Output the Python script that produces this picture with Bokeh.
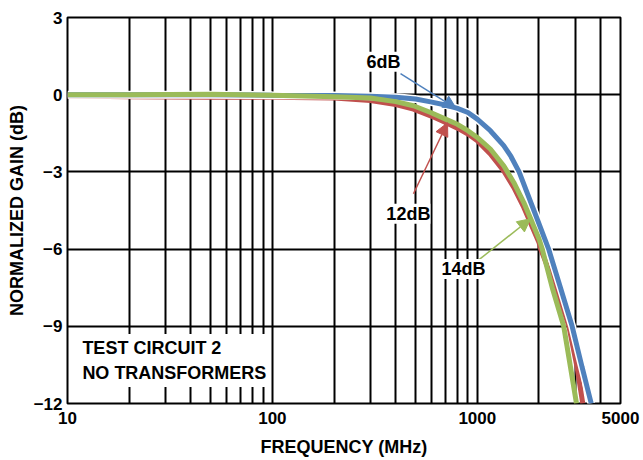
from bokeh.plotting import figure
from bokeh.models import FixedTicker, Label, Arrow, NormalHead, ColumnDataSource
from bokeh.embed import file_html
from bokeh.resources import INLINE

# ---- data ----
freq_6db = [10, 20, 50, 100, 200, 300, 400, 500, 592, 700, 800, 900, 1000, 1158, 1346, 1460, 1600, 1890, 2230, 2547, 2904, 3250, 3600]
gain_6db = [0.0, 0.0, 0.0, -0.02, -0.03, -0.06, -0.1, -0.17, -0.28, -0.4, -0.53, -0.69, -0.95, -1.4, -1.98, -2.4, -3.0, -4.5, -6.0, -7.5, -9.0, -10.6, -12.0]

freq_12db = [10, 20, 50, 100, 200, 301, 400, 488, 592, 700, 800, 900, 1000, 1158, 1346, 1507, 1687, 2000, 2040, 2410, 2799, 3070, 3272]
gain_12db = [-0.05, -0.08, -0.1, -0.1, -0.13, -0.23, -0.38, -0.56, -0.82, -1.08, -1.3, -1.53, -1.79, -2.3, -2.96, -3.6, -4.38, -5.74, -6.0, -7.5, -9.0, -10.6, -12.0]

freq_14db = [10, 20, 50, 100, 200, 301, 400, 488, 592, 700, 800, 900, 1000, 1158, 1346, 1507, 1687, 1855, 2000, 2075, 2322, 2642, 2852, 3049]
gain_14db = [0.0, 0.0, 0.02, -0.02, -0.08, -0.13, -0.27, -0.43, -0.69, -0.95, -1.15, -1.4, -1.66, -2.11, -2.76, -3.41, -4.19, -4.97, -5.6, -6.0, -7.5, -9.0, -10.6, -12.0]

x_major_ticks = [10, 100, 1000, 5000]
x_tick_labels = ["10", "100", "1000", "5000"]
x_grid_ticks = [20, 30, 40, 50, 60, 70, 80, 90, 100, 200, 300, 400, 500, 600, 700, 800, 900, 1000, 2000, 3000, 4000]
y_ticks = [-12, -9, -6, -3, 0, 3]

BLUE = "#4F81BD"
RED = "#C0504D"
GREEN = "#9BBB59"
FONT = "Liberation Sans"

p = figure(width=643, height=460, x_axis_type="log", x_range=(10, 5000), y_range=(-12, 3),
           output_backend="svg", toolbar_location=None,
           min_border_left=67, min_border_right=23, min_border_top=17, min_border_bottom=57)

p.outline_line_color = "black"
p.outline_line_width = 2
p.background_fill_color = "white"

p.xaxis.ticker = FixedTicker(ticks=x_major_ticks)
p.xaxis.major_label_overrides = dict(zip(x_major_ticks, x_tick_labels))
p.yaxis.ticker = FixedTicker(ticks=y_ticks)
p.xgrid.ticker = FixedTicker(ticks=x_grid_ticks)
p.ygrid.ticker = FixedTicker(ticks=y_ticks)
for g in (p.xgrid, p.ygrid):
    g.grid_line_color = "black"
    g.grid_line_width = 2
    g.grid_line_alpha = 1.0

for ax in (p.xaxis, p.yaxis):
    ax.axis_line_color = None
    ax.major_tick_line_color = None
    ax.minor_tick_line_color = None
    ax.major_tick_out = 0
    ax.major_tick_in = 0
    ax.minor_tick_out = 0
    ax.major_label_text_font = FONT
    ax.major_label_text_font_style = "bold"
    ax.major_label_text_font_size = "17px"
    ax.major_label_text_color = "black"
    ax.axis_label_text_font = FONT
    ax.axis_label_text_font_style = "bold"
    ax.axis_label_text_font_size = "18px"
    ax.axis_label_text_color = "black"

p.xaxis.major_label_standoff = 8
p.yaxis.major_label_standoff = 5
p.xaxis.axis_label = "FREQUENCY (MHz)"
p.yaxis.axis_label = "NORMALIZED GAIN (dB)"
p.xaxis.axis_label_standoff = 10
p.yaxis.axis_label_standoff = 4

# ---- curves ----
src6 = ColumnDataSource(dict(f=freq_6db, g=gain_6db))
src12 = ColumnDataSource(dict(f=freq_12db, g=gain_12db))
src14 = ColumnDataSource(dict(f=freq_14db, g=gain_14db))

p.line("f", "g", source=src12, line_color=RED, line_width=5)
p.line("f", "g", source=src6, line_color="white", line_width=8)
p.line("f", "g", source=src6, line_color=BLUE, line_width=5)
p.line("f", "g", source=src14, line_color=GREEN, line_width=5)

# ---- annotations ----
def lbl(x, y, t, **kw):
    p.add_layout(Label(x=x, y=y, text=t, text_font=FONT, text_font_style="bold",
                       text_font_size="18px", text_color="black",
                       background_fill_color="white", **kw))

p.add_layout(Arrow(x_start=422, y_start=0.82, x_end=790, y_end=-0.54, line_color=BLUE, line_width=1.5,
                   end=NormalHead(size=13, fill_color=BLUE, line_color=BLUE)))
p.add_layout(Arrow(x_start=488, y_start=-3.85, x_end=716, y_end=-1.09, line_color=RED, line_width=1.5,
                   end=NormalHead(size=13, fill_color=RED, line_color=RED)))
p.add_layout(Arrow(x_start=1002, y_start=-6.46, x_end=1820, y_end=-4.82, line_color=GREEN, line_width=1.5,
                   end=NormalHead(size=13, fill_color=GREEN, line_color=GREEN)))

lbl(349, 1.28, "6dB", text_align="center", text_baseline="middle")
lbl(461, -4.63, "12dB", text_align="center", text_baseline="middle")
lbl(857, -6.77, "14dB", text_align="center", text_baseline="middle")

lbl(11.3, -9.3, "TEST CIRCUIT 2\nNO TRANSFORMERS", text_align="left", text_baseline="top",
    padding=4, text_line_height=1.25)

open("out.html", "w").write(file_html(p, INLINE))
